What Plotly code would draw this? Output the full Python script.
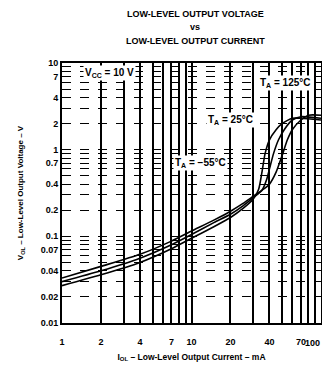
import plotly.graph_objects as go

# ---- data ----
i_m55 = [1, 2, 4, 7, 10, 15, 20, 25, 30, 33, 35, 37, 40, 45, 50, 60, 70, 100]
v_m55 = [0.027, 0.036, 0.050, 0.072, 0.095, 0.13, 0.165, 0.21, 0.27, 0.35, 0.55, 0.9, 1.3, 1.7, 2.0, 2.3, 2.3, 2.2]

i_25 = [1, 2, 4, 7, 10, 15, 20, 25, 30, 35, 38, 40, 43, 47, 52, 60, 70, 100]
v_25 = [0.030, 0.040, 0.056, 0.080, 0.105, 0.145, 0.18, 0.225, 0.28, 0.34, 0.45, 0.6, 0.9, 1.3, 1.7, 2.2, 2.4, 2.3]

i_125 = [1, 2, 4, 7, 10, 15, 20, 25, 30, 35, 40, 45, 50, 55, 60, 70, 80, 100]
v_125 = [0.033, 0.045, 0.062, 0.088, 0.115, 0.155, 0.195, 0.24, 0.29, 0.34, 0.40, 0.55, 0.85, 1.3, 1.7, 2.2, 2.5, 2.5]

x_labeled = {1: "1", 2: "2", 4: "4", 7: "7", 10: "10", 20: "20", 40: "40", 70: "70", 100: "100"}
y_labeled = {10: "10", 7: "7", 4: "4", 2: "2", 1: "1", 0.7: "0.7", 0.4: "0.4", 0.2: "0.2",
             0.1: "0.1", 0.07: "0.07", 0.04: "0.04", 0.02: "0.02", 0.01: "0.01"}
title_lines = ["LOW-LEVEL OUTPUT VOLTAGE", "vs", "LOW-LEVEL OUTPUT CURRENT"]

x_grid = [m * d for d in (1, 10) for m in range(1, 10)] + [100]
y_grid = [round(m * d, 4) for d in (0.01, 0.1, 1) for m in range(1, 10)] + [10]
X_MAX = 100

FONT = "Liberation Sans"

fig = go.Figure()
for xs, ys in ((i_m55, v_m55), (i_25, v_25), (i_125, v_125)):
    fig.add_trace(go.Scatter(x=xs, y=ys, mode="lines",
                             line=dict(color="black", width=1.6, shape="spline", smoothing=0.6),
                             showlegend=False, hoverinfo="skip"))

# page body has an 8px margin, so the figure is made smaller than the window (no scrollbar)
fig.update_layout(
    width=322, height=360,
    margin=dict(l=54, r=9, t=55, b=45, autoexpand=False),
    paper_bgcolor="white", plot_bgcolor="white",
    font=dict(family=FONT, color="black", size=9),
)

for line, yy in zip(title_lines, (1.188, 1.138, 1.085)):
    fig.add_annotation(xref="paper", yref="paper", x=0.514, y=yy, xanchor="center", yanchor="middle",
                       text="<b>" + line + "</b>", showarrow=False,
                       font=dict(family=FONT, size=9, color="black"))

fig.update_xaxes(
    type="log", range=[0, 2], automargin=False,
    tickvals=x_grid, ticktext=[x_labeled.get(v, "") if v != X_MAX else "" for v in x_grid],
    tickfont=dict(size=9, weight="bold"), ticks="outside", ticklen=9, tickcolor="rgba(0,0,0,0)",
    showgrid=True, gridcolor="black", gridwidth=1.6,
    showline=True, linecolor="black", linewidth=1.8, mirror=True,
    title=dict(text="<b>I<sub>OL</sub> – Low-Level Output Current – mA</b>", font=dict(size=8.5), standoff=8),
    zeroline=False,
)
fig.add_annotation(xref="paper", yref="paper", x=1.004, y=-0.077, xanchor="right", yanchor="middle",
                   text=x_labeled[X_MAX], showarrow=False,
                   font=dict(family=FONT, size=9, color="black", weight="bold"))

fig.update_yaxes(
    type="log", range=[-2, 1], automargin=False,
    tickvals=y_grid, ticktext=[y_labeled.get(v, "") for v in y_grid],
    tickfont=dict(size=9, weight="bold"), ticks="",
    showgrid=True, gridcolor="black", gridwidth=1.2, griddash="dash",
    showline=True, linecolor="black", linewidth=1.8, mirror=True,
    title=dict(text="<b>V<sub>OL</sub> – Low-Level Output Voltage – V</b>", font=dict(size=8), standoff=16),
    zeroline=False,
)

ann_font = dict(family=FONT, size=10, color="black", weight="bold")
fig.add_annotation(x=0.37, y=0.88, xref="x", yref="y", text="V<sub>CC</sub> = 10 V", showarrow=False,
                   font=ann_font, bgcolor="white", xanchor="center")
fig.add_annotation(x=1.72, y=0.77, xref="x", yref="y", text="T<sub>A</sub> = 125°C", showarrow=False,
                   font=ann_font, bgcolor="white", xanchor="center")
fig.add_annotation(x=1.30, y=0.34, xref="x", yref="y", text="T<sub>A</sub> = 25°C", showarrow=False,
                   font=ann_font, bgcolor="white", xanchor="center")
fig.add_annotation(x=1.07, y=-0.15, xref="x", yref="y", text="T<sub>A</sub> = −55°C", showarrow=False,
                   font=ann_font, bgcolor="white", xanchor="center")

fig.write_html("out.html")
